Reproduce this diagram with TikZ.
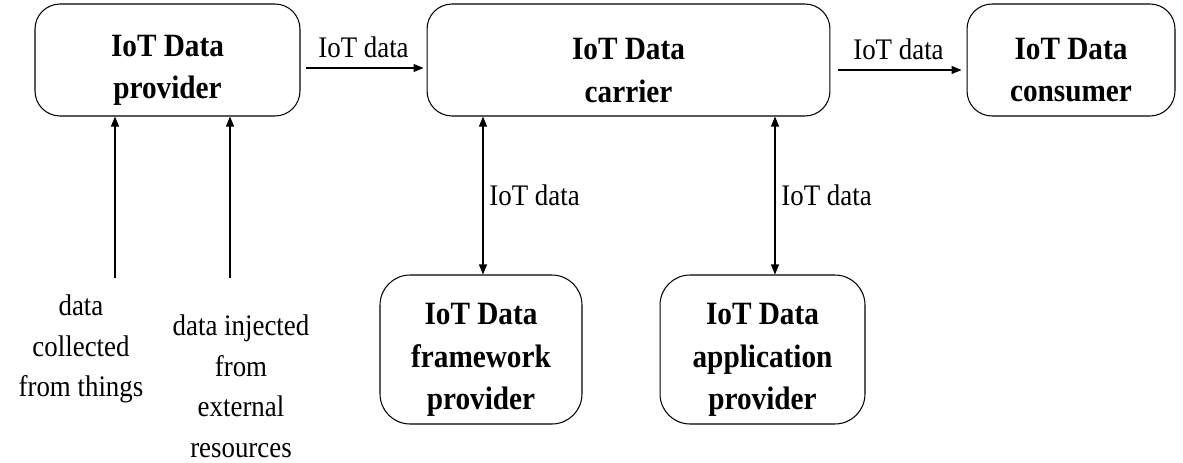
\documentclass[tikz,border=0pt]{standalone}
\usepackage{fontspec}
\setmainfont{Liberation Serif}[FakeStretch=0.9]
\usepackage{tikz}
\usetikzlibrary{calc, positioning, arrows.meta}

% extra room above the first line, so the text sits low in the box
\newcommand{\topgap}{\rule{0pt}{24pt}}

\begin{document}
\begin{tikzpicture}[
  x=0.02cm, y=-0.02cm,
  font=\fontsize{17}{23.3}\selectfont,
  role/.style={draw, rounded corners=0.5cm, align=center, line width=0.6pt, inner sep=0pt,
    font=\fontsize{18.5}{24}\selectfont\bfseries, minimum height=2.24cm},
  arr/.style={-{Triangle[length=0.2cm, width=0.16cm]}, line width=0.6pt},
  darr/.style={{Triangle[length=0.2cm, width=0.16cm]}-{Triangle[length=0.2cm, width=0.16cm]}, line width=0.6pt},
  src/.style={align=center, inner sep=0pt, anchor=north}
]
\useasboundingbox (0,0) rectangle (1183,463);

% top row
\node[role, minimum width=5.3cm] (prov) at (167.5,60) {\topgap IoT Data\\provider};
\node[role, minimum width=8.06cm] (carrier) at (628.5,60) {\topgap IoT Data\\carrier};
\node[role, minimum width=4.16cm] (cons) at (1071,60) {\topgap IoT Data\\consumer};

% bottom row
\node[role, minimum width=4.04cm, minimum height=2.98cm, rounded corners=0.6cm] (frame) at (481,349.5) {\topgap IoT Data\\framework\\provider};
\node[role, minimum width=4.1cm, minimum height=2.98cm, rounded corners=0.6cm] (app) at (762.5,349.5) {\topgap IoT Data\\application\\provider};

% data sources
\node[src] (things) at (81,294) {data\\collected\\from things};
\node[src] (ext) at (241,314) {data injected\\from\\external\\resources};
\coordinate (thingsTop) at (115,278);
\coordinate (extTop) at (230,278);

\draw[arr, shorten <=0.1cm, shorten >=0.06cm] ([yshift=-0.16cm]prov.east) -- node[above=2pt]{IoT data} ([yshift=-0.16cm]carrier.west);
\draw[arr, shorten <=0.16cm, shorten >=0.1cm] ([yshift=-0.2cm]carrier.east) -- node[above=2pt]{IoT data} ([yshift=-0.2cm]cons.west);

\draw[darr] ([xshift=0.04cm]frame.north |- carrier.south) -- node[right=0pt]{IoT data} ([xshift=0.04cm]frame.north);
\draw[darr] ([xshift=0.25cm]app.north |- carrier.south) -- node[right=0pt]{IoT data} ([xshift=0.25cm]app.north);

\draw[arr] (thingsTop) -- (thingsTop |- prov.south);
\draw[arr] (extTop) -- (extTop |- prov.south);

\end{tikzpicture}
\end{document}
